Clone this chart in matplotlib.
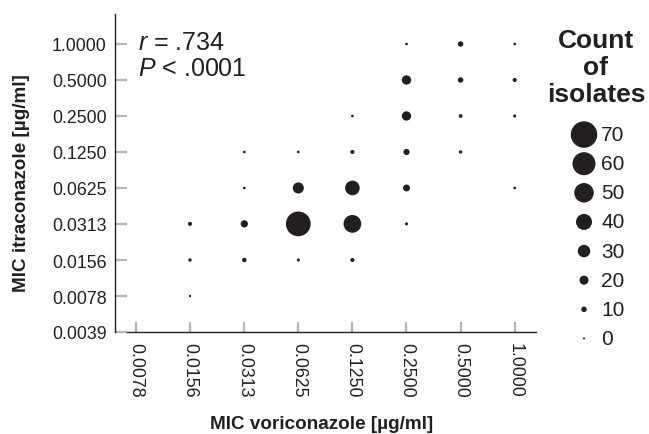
import matplotlib
matplotlib.use('Agg')
from matplotlib import pyplot as plt

plt.rcParams['font.family'] = ['Liberation Sans', 'DejaVu Sans']
plt.rcParams['mathtext.fontset'] = 'custom'
plt.rcParams['mathtext.it'] = 'Liberation Sans:italic'
plt.rcParams['mathtext.rm'] = 'Liberation Sans'

ink = '#231f20'
tick_grey = '#b5b5b5'

# MIC levels (ug/ml)
itra_levels = [0.0039, 0.0078, 0.0156, 0.0313, 0.0625, 0.125, 0.25, 0.5, 1.0]
vori_levels = [0.0078, 0.0156, 0.0313, 0.0625, 0.125, 0.25, 0.5, 1.0]

# one entry per occupied cell: voriconazole MIC, itraconazole MIC, number of isolates
vori = [0.0156, 0.0156, 0.0156,
        0.0313, 0.0313, 0.0313, 0.0313,
        0.0625, 0.0625, 0.0625, 0.0625,
        0.125, 0.125, 0.125, 0.125, 0.125,
        0.25, 0.25, 0.25, 0.25, 0.25, 0.25,
        0.5, 0.5, 0.5, 0.5,
        1.0, 1.0, 1.0, 1.0]
itra = [0.0078, 0.0156, 0.0313,
        0.0156, 0.0313, 0.0625, 0.125,
        0.0156, 0.0313, 0.0625, 0.125,
        0.0156, 0.0313, 0.0625, 0.125, 0.25,
        0.0313, 0.0625, 0.125, 0.25, 0.5, 1.0,
        0.125, 0.25, 0.5, 1.0,
        0.0625, 0.25, 0.5, 1.0]
count = [1, 4, 6,
         7, 15, 2, 2,
         3, 65, 26, 2,
         6, 45, 36, 6, 2,
         3, 14, 12, 21, 21, 2,
         4, 5, 10, 10,
         2, 3, 6, 2]

legend_counts = [70, 60, 50, 40, 30, 20, 10, 0]


def marker_area(c):
    # diameter grows linearly with count (pixels at 100 dpi -> points)
    d_px = 2 + 0.35 * c
    d_pt = d_px * 72 / 100
    return d_pt ** 2


W, H = 649, 435
fig = plt.figure(figsize=(W / 100, H / 100), dpi=100)

ax = fig.add_axes([115 / W, 1 - 333 / H, 421 / W, 318 / H])
ax.set_xscale('log', base=2)
ax.set_yscale('log', base=2)
ax.scatter(vori, itra, s=[marker_area(c) for c in count], color=ink,
           linewidths=0, zorder=3, clip_on=False)

ax.set_xlim(2 ** (-7 - 21 / 54.1), 2 ** (-7 + 400 / 54.1))
ax.set_ylim(2 ** -8, 2 ** (-8 + 318 / 36))
ax.set_xticks(vori_levels)
ax.set_xticklabels(['%.4f' % v for v in vori_levels])
ax.set_yticks(itra_levels)
ax.set_yticklabels(['%.4f' % v for v in itra_levels])
ax.minorticks_off()

for s in ['top', 'right']:
    ax.spines[s].set_visible(False)
for s in ['left', 'bottom']:
    ax.spines[s].set_color(ink)
    ax.spines[s].set_linewidth(1.0)
ax.spines['bottom'].set_bounds(2 ** (-7 - 9 / 54.1), 2 ** (-7 + 400 / 54.1))

ax.tick_params(axis='y', direction='in', length=8.5, width=1.6, color=tick_grey,
               pad=6, labelsize=12.8, labelcolor=ink)
ax.tick_params(axis='x', direction='in', length=7, width=1.6, color=tick_grey,
               pad=7, labelsize=12.8, labelcolor=ink, labelrotation=-90)

fig.text(322 / W, 1 - 425 / H, 'MIC voriconazole [µg/ml]', ha='center', va='center',
         fontsize=13.6, fontweight='bold', color=ink)
fig.text(22 / W, 1 - 183 / H, 'MIC itraconazole [µg/ml]', ha='center', va='center',
         rotation=90, fontsize=13.6, fontweight='bold', color=ink)

fig.text(138 / W, 1 - 50 / H, r'$\mathit{r}$ = .734', ha='left', va='baseline',
         fontsize=18, color=ink)
fig.text(138 / W, 1 - 76 / H, r'$\mathit{P}$ < .0001', ha='left', va='baseline',
         fontsize=18, color=ink)

# size legend
for line, base in zip(['Count', 'of', 'isolates'], [48, 75, 102]):
    fig.text(596 / W, 1 - base / H, line, ha='center', va='baseline',
             fontsize=19, fontweight='bold', color=ink)

lax = fig.add_axes([560 / W, 1 - 354 / H, 89 / W, 233 / H])
lax.set_xlim(0, 89)
lax.set_ylim(len(legend_counts) - 0.5, -0.5)
lax.axis('off')
rows = list(range(len(legend_counts)))
lax.scatter([24] * len(rows), rows, s=[marker_area(c) for c in legend_counts],
            color=ink, linewidths=0, clip_on=False)
for r, c in zip(rows, legend_counts):
    lax.text(41, r, str(c), ha='left', va='center', fontsize=15, color=ink)

fig.savefig('out.png', dpi=100)
